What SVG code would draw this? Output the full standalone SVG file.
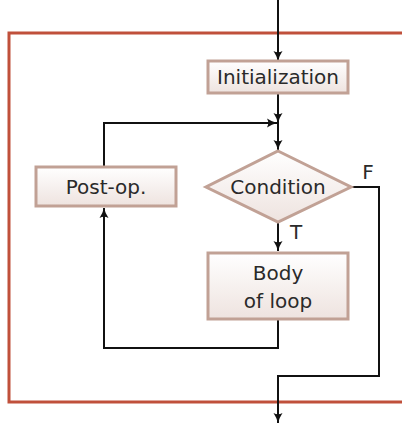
<svg xmlns="http://www.w3.org/2000/svg" width="402" height="426" viewBox="0 0 402 426">
<defs>
<linearGradient id="g" x1="0" y1="0" x2="0" y2="1">
<stop offset="0" stop-color="#ffffff"/>
<stop offset="1" stop-color="#eee3df"/>
</linearGradient>
<marker id="a" markerWidth="12" markerHeight="12" refX="11" refY="6" orient="auto" markerUnits="userSpaceOnUse">
<path d="M1,1.5 Q6,4.8 11,6 Q6,7.2 1,10.5 Q3.5,6 1,1.5 Z" fill="#111"/>
</marker>
<style>
.n{fill:url(#g);stroke:#c1a195;stroke-width:3}
.t{font-family:"DejaVu Sans","Liberation Sans",sans-serif;font-size:20px;fill:#2a2a2a;text-anchor:middle}
.c{fill:none;stroke:#111;stroke-width:2}
</style>
</defs>
<path d="M402,33 H9 V402 H402" fill="none" stroke="#c0503b" stroke-width="3"/>
<g id="connectors">
<path class="c" d="M278,0 V61" marker-end="url(#a)"/>
<path class="c" d="M278,94 V123" marker-end="url(#a)"/>
<path class="c" d="M278,123 V150" marker-end="url(#a)"/>
<path class="c" d="M104,167 V123 H277" marker-end="url(#a)"/>
<path class="c" d="M278,223 V251" marker-end="url(#a)"/>
<path class="c" d="M278,320 V348 H104 V208" marker-end="url(#a)"/>
<path class="c" d="M351,187 H379 V376 H278 V423" marker-end="url(#a)"/>
<text class="t" x="368" y="179">F</text>
<text class="t" x="296" y="239">T</text>
</g>
<g id="init">
<rect class="n" x="208" y="61" width="140" height="32"/>
<text class="t" x="278" y="84">Initialization</text>
</g>
<g id="cond">
<polygon class="n" points="278,151 351,187 278,222 206,187"/>
<text class="t" x="278" y="194">Condition</text>
</g>
<g id="postop">
<rect class="n" x="36" y="167" width="140" height="39"/>
<text class="t" x="106" y="194">Post-op.</text>
</g>
<g id="body">
<rect class="n" x="208" y="253" width="140" height="66"/>
<text class="t" x="278" y="280">Body</text>
<text class="t" x="278" y="308">of loop</text>
</g>
</svg>
